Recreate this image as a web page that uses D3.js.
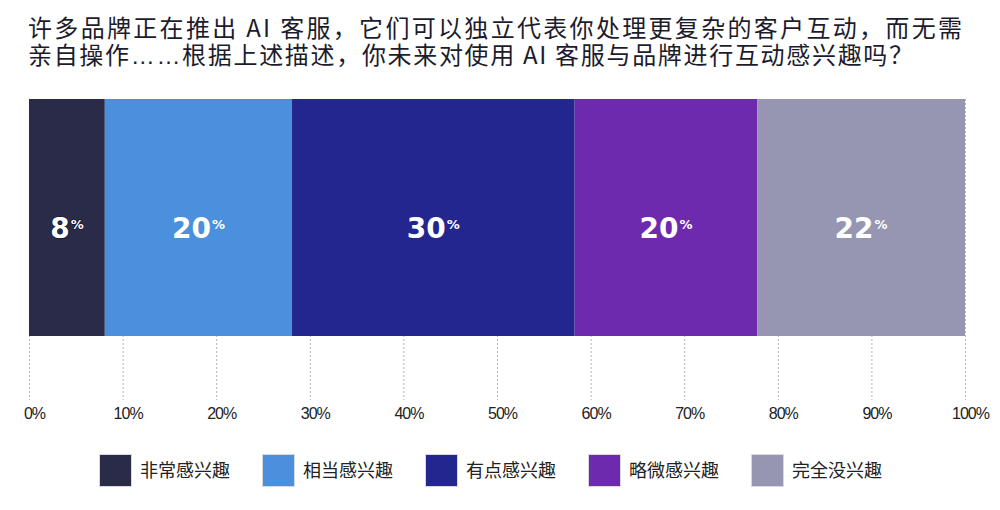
<!doctype html>
<html lang="zh">

<head>
    <meta charset="UTF-8" />
    <title>AI 客服兴趣</title>
    <script src="https://d3js.org/d3.v7.min.js"></script>
    <style>
        body,
        html {
            margin: 0;
            padding: 0;
            background: #ffffff;
            overflow: hidden;
        }

        svg {
            display: block;
        }

        .title {
            font-family: "Noto Sans CJK SC", "Noto Sans", sans-serif;
            font-size: 24px;
            fill: #1c1c2c;
        }

        .tick text {
            font-family: "Liberation Sans", Arial, sans-serif;
            font-size: 16px;
            letter-spacing: -1px;
            fill: #222;
        }

        .legend text {
            font-family: "Noto Sans CJK SC", sans-serif;
            font-size: 18px;
            fill: #222;
        }

        .pct {
            font-family: "DejaVu Sans", sans-serif;
            font-weight: bold;
            fill: #ffffff;
        }
    </style>
</head>

<body>
    <svg id="chart" width="1000" height="510"></svg>
    <script>
        const titleLines = [
            "许多品牌正在推出 AI 客服，它们可以独立代表你处理更复杂的客户互动，而无需",
            "亲自操作……根据上述描述，你未来对使用 AI 客服与品牌进行互动感兴趣吗？"
        ];
        const categories = ["非常感兴趣", "相当感兴趣", "有点感兴趣", "略微感兴趣", "完全没兴趣"];
        const values = [8.1, 20.0, 30.2, 19.5, 22.2];
        const colors = ["#2a2b48", "#4a90dc", "#24268f", "#6e2aae", "#9696b3"];
        const tickValues = [0, 10, 20, 30, 40, 50, 60, 70, 80, 90, 100];

        const svg = d3.select("#chart");
        const left = 29,
            right = 965,
            barTop = 99,
            barBottom = 336,
            gridBottom = 400;

        // title: one text, two lines; the ellipsis is drawn in a latin font so it sits on the baseline
        const titleWidths = [934, 885];
        const title = svg.append("text").attr("class", "title");
        titleLines.forEach((line, i) => {
            const t = title.append("tspan")
                .attr("x", 28)
                .attr("y", 37 + i * 27)
                .attr("textLength", titleWidths[i])
                .attr("lengthAdjust", "spacing");
            line.split(/(……)/).forEach(part => {
                if (!part) return;
                const p = t.append("tspan").text(part);
                if (part === "……") p.attr("font-family", "Liberation Sans, sans-serif");
            });
        });

        const x = d3.scaleLinear().domain([0, 100]).range([left, right]);
        const color = d3.scaleOrdinal().domain(categories).range(colors);

        let acc = 0;
        const segs = categories.map((c, i) => {
            const s = { cat: c, v: values[i], x0: acc, x1: acc + values[i] };
            acc += values[i];
            return s;
        });

        // dotted grid
        svg.append("g")
            .selectAll("line")
            .data(tickValues)
            .join("line")
            .attr("x1", d => x(d) + 0.5)
            .attr("x2", d => x(d) + 0.5)
            .attr("y1", barTop)
            .attr("y2", gridBottom)
            .attr("stroke", "#b4b4c4")
            .attr("stroke-width", 1)
            .attr("stroke-dasharray", "2,2");

        // bar
        svg.append("g")
            .selectAll("rect")
            .data(segs)
            .join("rect")
            .attr("x", d => x(d.x0))
            .attr("y", barTop)
            .attr("width", d => x(d.x1) - x(d.x0))
            .attr("height", barBottom - barTop)
            .attr("fill", d => color(d.cat));

        // value labels
        const yMid = (barTop + barBottom) / 2;
        const lbl = svg.append("g")
            .selectAll("text")
            .data(segs)
            .join("text")
            .attr("class", "pct")
            .attr("x", d => x((d.x0 + d.x1) / 2))
            .attr("y", yMid + 20)
            .attr("text-anchor", "middle")
            .attr("stroke", (d, i) => i === 0 ? "#111122" : "none")
            .attr("stroke-width", 1.2)
            .attr("paint-order", "stroke");
        lbl.append("tspan")
            .attr("font-size", 28)
            .text(d => Math.round(d.v));
        lbl.append("tspan")
            .attr("font-size", 13)
            .attr("dy", -9)
            .attr("dx", 1)
            .text("%");

        // axis
        const axis = d3.axisBottom(x)
            .tickValues(tickValues)
            .tickSize(0)
            .tickPadding(0)
            .tickFormat(d => d + "%");
        const ax = svg.append("g")
            .attr("transform", `translate(0,${gridBottom + 5})`)
            .call(axis);
        ax.select(".domain").remove();
        ax.selectAll(".tick text").attr("dy", "0.9em").attr("dx", 5);

        // legend
        const lx = d3.scalePoint().domain(categories).range([99, 751]);
        const lg = svg.append("g")
            .attr("class", "legend")
            .selectAll("g")
            .data(categories)
            .join("g")
            .attr("transform", d => `translate(${lx(d)},454)`);
        lg.append("rect")
            .attr("x", 0.5)
            .attr("y", 0.5)
            .attr("width", 32)
            .attr("height", 32)
            .attr("fill", d => color(d))
            .attr("stroke", "#d8d8e0")
            .attr("stroke-width", 1);
        lg.append("text")
            .attr("x", 41)
            .attr("y", 17)
            .attr("dy", "0.35em")
            .text(d => d);
    </script>
</body>

</html>
